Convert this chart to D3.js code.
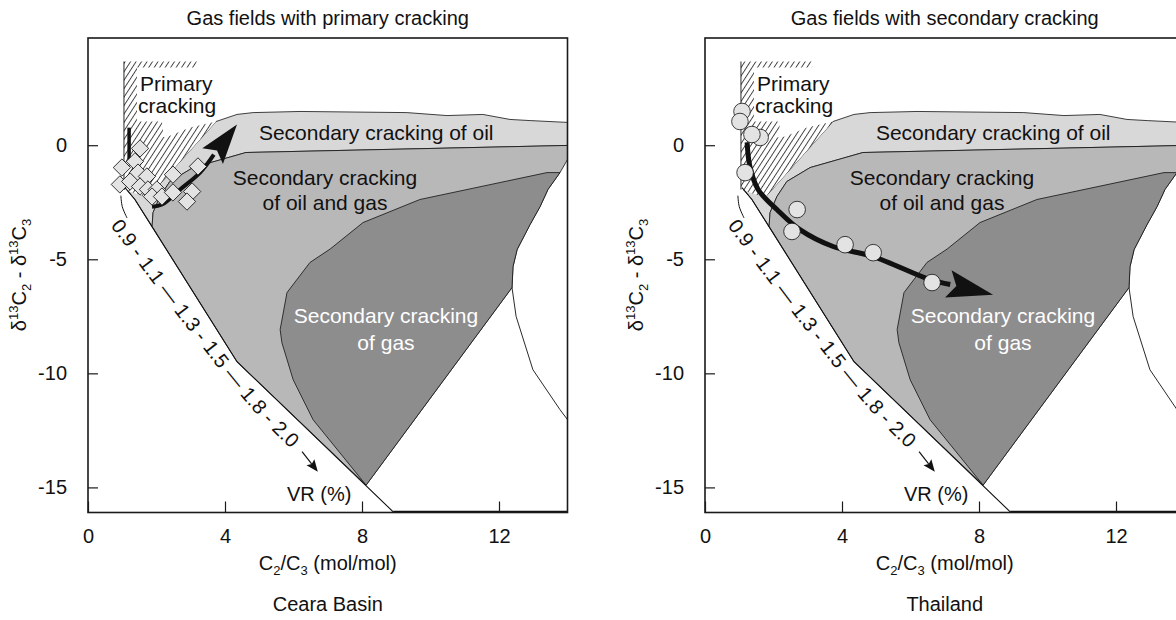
<!DOCTYPE html>
<html><head><meta charset="utf-8">
<script src="https://cdn.jsdelivr.net/npm/d3@7"></script>
<style>
body{margin:0;background:#fff}
svg{display:block}
text{font-family:"Liberation Sans",Arial,Helvetica,sans-serif;fill:#111}
</style>
</head><body>
<svg id="chart" width="1176" height="620"></svg>
<script>
// ---------------- data ----------------
const panelTitles = ["Gas fields with primary cracking", "Gas fields with secondary cracking"];
const panelNames = ["Ceara Basin", "Thailand"];
const xTicks = [0, 4, 8, 12];
const yTicks = [0, -5, -10, -15];
const xDomain = [0, 14];
const yDomain = [-16.1, 4.7];
const vrLabel = "0.9 - 1.1 \u2014 1.3 - 1.5 \u2014 1.8 - 2.0";

// zone outlines (C2/C3, d13C2-d13C3)
const primaryZone = [[1.05,3.67],[3.18,3.67],[3.12,3.41],[1.43,3.41],[1.43,1.04],[2.16,1.04],[2.19,0.60],[2.10,0.34],[2.34,0.38],[2.98,0.78],[3.74,1.04],[1.75,-2.29],[1.05,-1.94]];
const oilZone = [[3.74,1.04],[4.35,1.35],[4.82,1.43],[6.19,1.48],[9.31,1.43],[10.48,1.30],[11.53,1.35],[12.32,1.13],[12.91,1.08],[14,1.00],[14,-0.01],[7.36,-0.23],[4.61,-0.32],[3.07,-0.98],[2.39,-1.59],[2.10,-2.25],[1.90,-2.95],[1.87,-3.57],[1.37,-2.38],[1.08,-1.86],[1.75,-2.29]];
const oilGasZone = [[14,-0.01],[7.36,-0.23],[4.61,-0.32],[3.07,-0.98],[2.39,-1.59],[2.10,-2.25],[1.90,-2.95],[1.87,-3.57],[4.35,-9.49],[8.12,-14.9],[12.38,-6.24],[12.41,-5.32],[12.53,-4.57],[12.91,-3.47],[13.20,-2.69],[13.43,-1.94],[13.78,-1.20],[14,-0.63]];
const gasZone = [[8.12,-14.9],[12.38,-6.24],[12.41,-5.32],[12.53,-4.57],[12.91,-3.47],[13.20,-2.69],[13.43,-1.94],[13.78,-1.20],[13.40,-1.20],[9.69,-2.38],[8.03,-3.39],[7.07,-4.55],[6.48,-5.14],[5.81,-6.46],[5.61,-8.08],[5.66,-8.65],[5.99,-10.28],[6.57,-12.03]];
const vrLine = [[1.08,-1.86],[1.37,-2.38],[1.87,-3.57],[4.35,-9.49],[8.91,-16.07]];
const rightBoundary = [[12.38,-6.24],[12.50,-7.51],[12.99,-9.84],[13.78,-11.59],[14,-12.03]];
const baseBoundary = [[8.91,-16.07],[14,-16.07]];
const vrLeader = [[0.96,-2.21],[1.0,-2.69],[1.14,-3.19]];
const vrTextPath = [[0.82,-3.35],[1.81,-5.36],[3.12,-7.95],[5.08,-11.59],[6.31,-13.43]];
const vrArrow = [[6.25,-13.43],[6.71,-14.31]];

// samples
const cearaPoints = [[1.52,-0.14],[0.99,-0.98],[1.37,-0.71],[1.46,-1.20],[1.72,-1.37],[0.93,-1.72],[1.23,-1.59],[1.52,-1.81],[1.75,-1.94],[2.01,-1.94],[1.87,-2.25],[2.48,-1.29],[2.16,-2.25],[2.48,-2.07],[3.04,-2.03],[2.89,-2.47],[3.21,-0.93]];
const thailandPoints = [[1.08,1.48],[1.02,1.04],[1.61,0.34],[1.37,0.47],[1.17,-1.20],[2.69,-2.82],[2.54,-3.78],[4.09,-4.36],[4.91,-4.71],[6.63,-6.02]];

// trend arrows
const cearaTrend = [[1.87,-2.70],[2.16,-2.60],[2.69,-1.94],[3.27,-1.20],[4.35,0.91]];
const thailandTrend = [[1.23,0.12],[1.31,-0.93],[1.55,-1.94],[2.10,-2.82],[2.77,-3.70],[3.74,-4.44],[4.91,-4.88],[6.57,-5.89],[8.41,-6.55]];
const cearaBar = [[1.2,0.77],[1.2,-0.63]];

// ---------------- drawing ----------------
const colors = {oil:"#d9d8d9", oilGas:"#b9b8b9", gas:"#8e8d8e", point:"#e4e3e4", ink:"#111"};
const svg = d3.select("#chart");
const defs = svg.append("defs");
const pat = defs.append("pattern").attr("id","hatch").attr("patternUnits","userSpaceOnUse")
  .attr("width",4.6).attr("height",10).attr("patternTransform","rotate(33)");
pat.append("rect").attr("width",4.6).attr("height",10).attr("fill","#fff");
pat.append("line").attr("x1",0.5).attr("x2",0.5).attr("y1",0).attr("y2",10).attr("stroke","#111").attr("stroke-width",0.8);

const panelOffsets = [0, 617];

function arrowHead(g, pts, x, y, headLen, headW, width) {
  const px = pts.map(d => [x(d[0]), y(d[1])]);
  const tip = px[px.length-1], prev = px[px.length-2];
  let dx = tip[0]-prev[0], dy = tip[1]-prev[1];
  const L = Math.hypot(dx,dy); dx/=L; dy/=L;
  const nx = -dy, ny = dx;
  const base = [tip[0]-headLen*dx, tip[1]-headLen*dy];
  const shaft = px.slice(0,-1).concat([[base[0]+2*dx, base[1]+2*dy]]);
  g.append("path").attr("d", d3.line().curve(d3.curveCatmullRom)(shaft))
    .attr("fill","none").attr("stroke",colors.ink).attr("stroke-width",width).attr("stroke-linecap","butt");
  const notch = [base[0]+0.18*headLen*dx, base[1]+0.18*headLen*dy];
  const head = [tip,[base[0]+nx*headW/2, base[1]+ny*headW/2], notch, [base[0]-nx*headW/2, base[1]-ny*headW/2]];
  g.append("path").attr("d", "M"+head.map(p=>p.join(",")).join("L")+"Z").attr("fill",colors.ink);
}

function drawPanel(i, points, shape, trend, headLen, headW, trendW) {
  const ox = panelOffsets[i];
  const x = d3.scaleLinear().domain(xDomain).range([88+ox, 567.5+ox]);
  const y = d3.scaleLinear().domain(yDomain).range([512.5, 38]);
  const cx = (x.range()[0]+x.range()[1])/2;
  const g = svg.append("g");
  const line = d3.line().x(d=>x(d[0])).y(d=>y(d[1]));
  const poly = pts => line(pts) + "Z";

  g.append("path").attr("d", poly(oilZone)).attr("fill",colors.oil).attr("stroke",colors.ink).attr("stroke-width",0.8).attr("stroke-linejoin","round");
  g.append("path").attr("d", poly(oilGasZone)).attr("fill",colors.oilGas).attr("stroke",colors.ink).attr("stroke-width",0.8).attr("stroke-linejoin","round");
  g.append("path").attr("d", poly(gasZone)).attr("fill",colors.gas).attr("stroke",colors.ink).attr("stroke-width",0.8).attr("stroke-linejoin","round");
  g.append("path").attr("d", poly(primaryZone)).attr("fill","url(#hatch)").attr("stroke","none");
  g.append("path").attr("d", line([primaryZone[0], primaryZone[primaryZone.length-1]])).attr("stroke",colors.ink).attr("stroke-width",0.9);
  g.append("path").attr("d", line(vrLine)).attr("fill","none").attr("stroke",colors.ink).attr("stroke-width",1.1);
  g.append("path").attr("d", line(rightBoundary)).attr("fill","none").attr("stroke",colors.ink).attr("stroke-width",0.9);
  g.append("path").attr("d", line(baseBoundary)).attr("fill","none").attr("stroke",colors.ink).attr("stroke-width",2.2);
  g.append("path").attr("d", line.curve(d3.curveCatmullRom)(vrLeader)).attr("fill","none").attr("stroke",colors.ink).attr("stroke-width",1);
  line.curve(d3.curveLinear);

  // VR label along the maturity line
  const tpId = "vrpath"+i;
  defs.append("path").attr("id",tpId).attr("d", d3.line().x(d=>x(d[0])).y(d=>y(d[1])).curve(d3.curveCatmullRom)(vrTextPath));
  g.append("text").attr("font-size",20).attr("dominant-baseline","central")
    .append("textPath").attr("href","#"+tpId).attr("textLength",286).attr("lengthAdjust","spacing").text(vrLabel);
  arrowHead(g, vrArrow, x, y, 12, 10, 1.2);
  g.append("text").attr("x",x(6.75)).attr("y",y(-15.6)).attr("text-anchor","middle").attr("font-size",20).text("VR (%)");

  // zone labels
  g.append("text").attr("x",x(1.52)).attr("y",y(2.39)).attr("font-size",21).text("Primary");
  g.append("text").attr("x",x(1.46)).attr("y",y(1.43)).attr("font-size",21).text("cracking");
  g.append("text").attr("x",x(4.99)).attr("y",y(0.25)).attr("font-size",21).text("Secondary cracking of oil");
  g.append("text").attr("x",x(6.92)).attr("y",y(-1.73)).attr("text-anchor","middle").attr("font-size",21).text("Secondary cracking");
  g.append("text").attr("x",x(6.92)).attr("y",y(-2.82)).attr("text-anchor","middle").attr("font-size",21).text("of oil and gas");
  g.append("text").attr("x",x(8.70)).attr("y",y(-7.78)).attr("text-anchor","middle").attr("font-size",21).style("fill","#fff").text("Secondary cracking");
  g.append("text").attr("x",x(8.70)).attr("y",y(-8.97)).attr("text-anchor","middle").attr("font-size",21).style("fill","#fff").text("of gas");

  // trend
  if (i === 0) {
    g.append("path").attr("d", line(cearaBar)).attr("stroke",colors.ink).attr("stroke-width",3.5);
  }
  arrowHead(g, trend, x, y, headLen, headW, trendW);

  // samples
  if (shape === "diamond") {
    g.selectAll("path.pt").data(points).join("path").attr("class","pt")
      .attr("d", d3.symbol().type(d3.symbolSquare).size(150)())
      .attr("transform", d=>`translate(${x(d[0])},${y(d[1])}) rotate(45)`)
      .attr("fill",colors.point).attr("stroke",colors.ink).attr("stroke-width",0.8);
  } else {
    g.selectAll("circle.pt").data(points).join("circle").attr("class","pt")
      .attr("cx", d=>x(d[0])).attr("cy", d=>y(d[1])).attr("r",8.3)
      .attr("fill",colors.point).attr("stroke",colors.ink).attr("stroke-width",0.8);
  }

  // frame and axes
  g.append("rect").attr("x",x(xDomain[0])).attr("y",y(yDomain[1]))
    .attr("width",x(xDomain[1])-x(xDomain[0])).attr("height",y(yDomain[0])-y(yDomain[1]))
    .attr("fill","none").attr("stroke","#1a1a1a").attr("stroke-width",1.6);
  const xAxis = d3.axisBottom(x).tickValues(xTicks).tickSize(-11).tickPadding(16).tickFormat(d => String(d));
  const xg = g.append("g").attr("transform",`translate(0,${y(yDomain[0])})`).call(xAxis);
  const yAxis = d3.axisLeft(y).tickValues(yTicks).tickSize(-10).tickPadding(21).tickFormat(d => String(d));
  const yg = g.append("g").attr("transform",`translate(${x(xDomain[0])},0)`).call(yAxis);
  [xg,yg].forEach(a=>{
    a.select(".domain").remove();
    a.selectAll(".tick line").attr("stroke","#1a1a1a").attr("stroke-width",1.2);
    a.selectAll(".tick text").attr("font-size",20).attr("font-family",'"Liberation Sans",Arial,sans-serif').attr("fill","#111");
  });

  // titles
  g.append("text").attr("x",cx).attr("y",25).attr("text-anchor","middle").attr("font-size",20).text(panelTitles[i]);
  const xl = g.append("text").attr("x",cx).attr("y",570).attr("text-anchor","middle").attr("font-size",20);
  xl.append("tspan").text("C");
  xl.append("tspan").attr("font-size",13).attr("dy",5).text("2");
  xl.append("tspan").attr("dy",-5).text("/C");
  xl.append("tspan").attr("font-size",13).attr("dy",5).text("3");
  xl.append("tspan").attr("dy",-5).text(" (mol/mol)");
  g.append("text").attr("x",cx).attr("y",611).attr("text-anchor","middle").attr("font-size",20).text(panelNames[i]);
  const yl = g.append("text").attr("transform",`translate(${26+ox},275) rotate(-90)`).attr("text-anchor","middle").attr("font-size",20);
  yl.append("tspan").text("\u03b4");
  yl.append("tspan").attr("font-size",13).attr("dy",-8).text("13");
  yl.append("tspan").attr("dy",8).text("C");
  yl.append("tspan").attr("font-size",13).attr("dy",5).text("2");
  yl.append("tspan").attr("dy",-5).text(" - \u03b4");
  yl.append("tspan").attr("font-size",13).attr("dy",-8).text("13");
  yl.append("tspan").attr("dy",8).text("C");
  yl.append("tspan").attr("font-size",13).attr("dy",5).text("3");
}

drawPanel(0, cearaPoints, "diamond", cearaTrend, 40, 26, 4);
drawPanel(1, thailandPoints, "circle", thailandTrend, 46, 28, 5);
</script>
</body></html>
